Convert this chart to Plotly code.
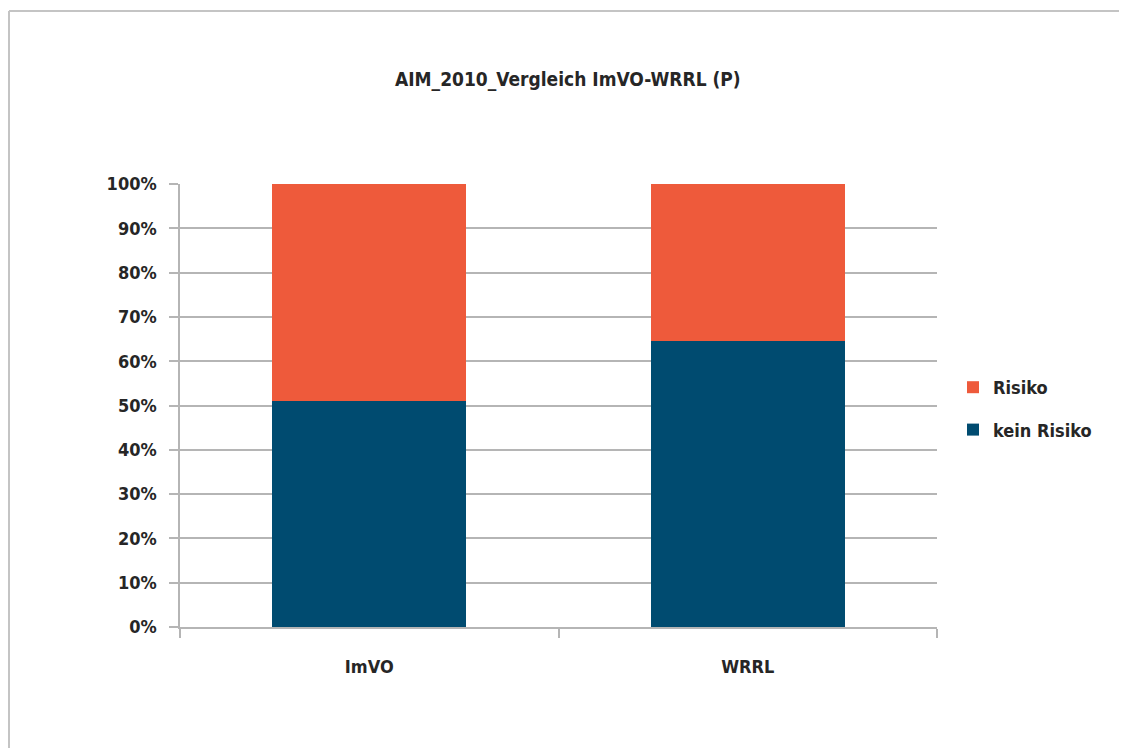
import plotly.graph_objects as go

categories = ["ImVO", "WRRL"]
kein_risiko = [51.0, 64.5]
risiko = [49.0, 35.5]
y_ticks = [0, 10, 20, 30, 40, 50, 60, 70, 80, 90, 100]
y_tick_labels = [f"{v}%" for v in y_ticks]

# page has an 8px body margin; figure sized to fit the window
OFF = 8
W, H = 1127 - OFF, 756 - 2 * OFF
L, R, T, B = 180 - OFF, 937 - OFF, 184 - OFF, 627 - OFF
pw, ph = R - L, B - T


def px_x(x):
    """viewport x pixel -> paper coordinate"""
    return (x - OFF - L) / pw


def px_y(y):
    """viewport y pixel -> paper coordinate"""
    return (B - (y - OFF)) / ph


font_family = "DejaVu Sans Condensed, Liberation Sans Narrow, Arial Narrow, sans-serif"
txt = "#262626"
frame = "#c4c4c4"

fig = go.Figure()
fig.add_trace(go.Bar(
    x=categories, y=kein_risiko, name="kein Risiko",
    marker=dict(color="#004B70", line=dict(width=0)),
    legendgroup="b", legendrank=2,
))
fig.add_trace(go.Bar(
    x=categories, y=risiko, name="Risiko",
    marker=dict(color="#EE5A3B", line=dict(width=0)),
    legendgroup="a", legendrank=1,
))

fig.update_layout(
    width=W, height=H,
    barmode="stack",
    bargap=0.487,
    paper_bgcolor="white",
    plot_bgcolor="white",
    margin=dict(l=L, r=W - R, t=T, b=H - B, pad=0),
    font=dict(family=font_family, size=18, color=txt),
    showlegend=True,
    legend=dict(
        x=px_x(953), y=px_y(369), xanchor="left", yanchor="top",
        traceorder="grouped", tracegroupgap=16,
        font=dict(size=18, color=txt, weight="bold"),
        bgcolor="rgba(0,0,0,0)", itemwidth=30,
    ),
    annotations=[dict(
        text="AIM_2010_Vergleich ImVO-WRRL (P)",
        xref="paper", yref="paper",
        x=px_x(568), y=px_y(80), xanchor="center", yanchor="middle",
        showarrow=False,
        font=dict(family=font_family, size=19, color=txt, weight="bold"),
    )],
    shapes=[
        dict(type="line", xref="paper", yref="paper",
             x0=px_x(9), x1=px_x(1200), y0=px_y(11), y1=px_y(11),
             line=dict(color=frame, width=2), layer="below"),
        dict(type="line", xref="paper", yref="paper",
             x0=px_x(9), x1=px_x(9), y0=px_y(11), y1=px_y(800),
             line=dict(color=frame, width=2), layer="below"),
    ],
)

fig.update_yaxes(
    range=[0, 100],
    tickvals=y_ticks, ticktext=y_tick_labels,
    showgrid=True, gridcolor="#b5b5b5", gridwidth=1.5,
    showline=True, linecolor="#b5b5b5", linewidth=1.5,
    ticks="outside", ticklen=9, tickcolor="#b5b5b5", tickwidth=1.5,
    ticklabelstandoff=9,
    tickfont=dict(size=18, color=txt, weight="bold"),
    zeroline=False,
)
fig.update_xaxes(
    tickson="boundaries",
    showgrid=False,
    showline=True, linecolor="#b5b5b5", linewidth=1.5,
    ticks="outside", ticklen=9, tickcolor="#b5b5b5", tickwidth=1.5,
    ticklabelstandoff=23,
    tickfont=dict(size=18, color=txt, weight="bold"),
)

fig.write_html("out.html")
